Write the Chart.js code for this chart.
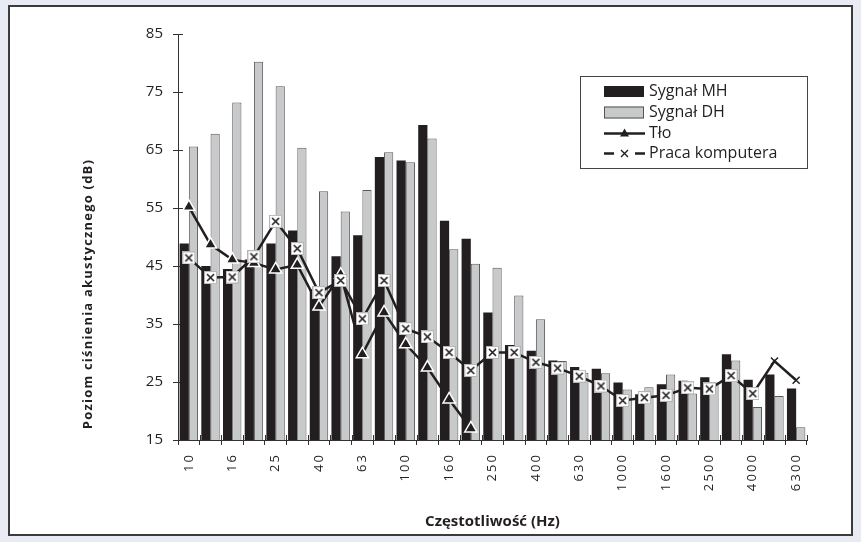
<!DOCTYPE html>
<html lang="pl">
<head>
<meta charset="utf-8">
<title>Poziom ciśnienia akustycznego</title>
<script src="https://cdn.jsdelivr.net/npm/chart.js@4.4.1/dist/chart.umd.min.js"></script>
<style>
  html, body { margin: 0; padding: 0; background: #e8eaf4; }
  #panel {
    position: absolute; left: 8px; top: 5px; width: 845px; height: 531px;
    box-sizing: border-box; background: #fff; border: 2px solid #3b3b3b;
  }
  #wykres { position: absolute; left: 0; top: 0; }
</style>
</head>
<body>
<div id="panel"></div>
<canvas id="wykres" width="861" height="542"></canvas>
<script>
// pasma tercjowe (Hz)
const czestotliwosci = ['10', '12.5', '16', '20', '25', '31.5', '40', '50', '63', '80', '100', '125', '160', '200',
    '250', '315', '400', '500', '630', '800', '1000', '1250', '1600', '2000', '2500', '3150', '4000', '5000', '6300'];

// poziomy w dB
const sygnalMH = [48.9, 45.0, 44.5, 46.1, 48.9, 51.1, 41.0, 46.7, 50.3, 63.8, 63.2, 69.3, 52.8, 49.7,
    37.0, 31.4, 30.4, 28.7, 27.6, 27.3, 24.9, 22.9, 24.6, 25.2, 25.8, 29.8, 25.4, 26.3, 23.9];
const sygnalDH = [65.6, 67.8, 73.2, 80.2, 76.0, 65.4, 57.9, 54.4, 58.1, 64.6, 62.9, 67.0, 47.9, 45.4,
    44.7, 39.9, 35.8, 28.6, 26.6, 26.5, 23.7, 24.1, 26.3, 23.0, 24.9, 28.7, 20.7, 22.6, 17.2];
const tlo = [55.2, 48.7, 46.1, 45.5, 44.4, 45.2, 38.0, 43.5, 29.8, 37.0, 31.5, 27.5, 22.0, 17.0,
    null, null, null, null, null, null, null, null, null, null, null, null, null, null, null];
const pracaKomputera = [46.4, 43.0, 43.1, 46.6, 52.7, 48.0, 40.4, 42.5, 35.9, 42.5, 34.2, 32.8, 30.1, 27.0,
    30.1, 30.1, 28.4, 27.4, 26.0, 24.3, 21.8, 22.3, 22.7, 24.0, 23.8, 26.1, 23.0, 28.6, 25.3];

const osY = { min: 15, max: 85, krok: 10 };

const CZARNY = '#231f20';
const SZARY = '#c8c9cb';
const FONT = "'Open Sans', sans-serif";

// znacznik "x" na białym kwadracie
function znacznikX() {
    const c = document.createElement('canvas');
    c.width = 13; c.height = 13;
    const g = c.getContext('2d');
    g.fillStyle = '#fff';
    g.fillRect(0, 0, 13, 13);
    g.strokeStyle = '#b5b5b5';
    g.lineWidth = 1;
    g.strokeRect(0.5, 0.5, 12, 12);
    g.strokeStyle = CZARNY;
    g.lineWidth = 1.6;
    g.beginPath();
    g.moveTo(3, 3); g.lineTo(10, 10);
    g.moveTo(10, 3); g.lineTo(3, 10);
    g.stroke();
    return c;
}
const xBox = znacznikX();

// kreski podziałki przecinające osie + tytuł osi Y
const osiePlugin = {
    id: 'osie',
    beforeDatasetsDraw(chart) {
        const { ctx, scales: { x, y } } = chart;
        ctx.save();
        ctx.strokeStyle = '#333';
        ctx.lineWidth = 1;
        ctx.beginPath();
        const n = czestotliwosci.length;
        for (let i = 0; i <= n; i++) {
            const px = Math.round(x.left + (x.right - x.left) * i / n) + 0.5;
            ctx.moveTo(px, y.bottom);
            ctx.lineTo(px, y.bottom - 5);
        }
        for (let v = osY.min; v <= osY.max; v += osY.krok) {
            const py = Math.round(y.getPixelForValue(v)) + 0.5;
            ctx.moveTo(x.left, py);
            ctx.lineTo(x.left + 5, py);
        }
        ctx.stroke();
        ctx.restore();
    },
    afterDraw(chart) {
        const ctx = chart.ctx;
        ctx.save();
        ctx.translate(88, 294);
        ctx.rotate(-Math.PI / 2);
        ctx.fillStyle = CZARNY;
        ctx.font = 'bold 13px ' + FONT;
        ctx.letterSpacing = '1.2px';
        ctx.textAlign = 'center';
        ctx.textBaseline = 'middle';
        ctx.fillText('Poziom ciśnienia akustycznego (dB)', 0, 0);
        ctx.restore();
    }
};

// legenda w ramce
const legendaPlugin = {
    id: 'legenda',
    afterDraw(chart) {
        const ctx = chart.ctx;
        const ds = chart.data.datasets;
        const rows = [91.5, 112.5, 133.5, 153.5];
        ctx.save();
        ctx.fillStyle = '#fff';
        ctx.fillRect(580, 76, 227, 92);
        ctx.strokeStyle = '#444';
        ctx.lineWidth = 1;
        ctx.strokeRect(580.5, 76.5, 227, 92);

        // Sygnał MH
        ctx.fillStyle = CZARNY;
        ctx.fillRect(604, rows[0] - 5.5, 40, 11);
        // Sygnał DH
        ctx.fillStyle = SZARY;
        ctx.fillRect(604, rows[1] - 6, 40, 12);
        ctx.strokeStyle = '#555';
        ctx.strokeRect(604.5, rows[1] - 5.5, 39, 11);
        // Tło
        ctx.strokeStyle = CZARNY;
        ctx.lineWidth = 2.5;
        ctx.beginPath();
        ctx.moveTo(604, rows[2]); ctx.lineTo(645, rows[2]);
        ctx.stroke();
        ctx.fillStyle = CZARNY;
        ctx.beginPath();
        ctx.moveTo(624.5, rows[2] - 5);
        ctx.lineTo(629, rows[2] + 3);
        ctx.lineTo(620, rows[2] + 3);
        ctx.closePath();
        ctx.fill();
        // Praca komputera
        ctx.beginPath();
        ctx.moveTo(604, rows[3]); ctx.lineTo(614, rows[3]);
        ctx.moveTo(635, rows[3]); ctx.lineTo(645, rows[3]);
        ctx.stroke();
        ctx.lineWidth = 1.4;
        ctx.beginPath();
        ctx.moveTo(621, rows[3] - 3.5); ctx.lineTo(628, rows[3] + 3.5);
        ctx.moveTo(628, rows[3] - 3.5); ctx.lineTo(621, rows[3] + 3.5);
        ctx.stroke();

        ctx.fillStyle = CZARNY;
        ctx.font = '16px ' + FONT;
        ctx.textAlign = 'left';
        ctx.textBaseline = 'middle';
        ds.forEach((d, i) => ctx.fillText(d.label, 649, rows[i]));
        ctx.restore();
    }
};

new Chart(document.getElementById('wykres'), {
    type: 'bar',
    data: {
        labels: czestotliwosci,
        datasets: [
            {
                label: 'Sygnał MH',
                data: sygnalMH,
                backgroundColor: CZARNY,
                borderWidth: 0,
                order: 2
            },
            {
                label: 'Sygnał DH',
                data: sygnalDH,
                backgroundColor: SZARY,
                borderColor: '#58595b',
                borderWidth: 1,
                order: 3
            },
            {
                type: 'line',
                label: 'Tło',
                data: tlo,
                borderColor: CZARNY,
                borderWidth: 2.5,
                pointStyle: 'triangle',
                pointRadius: 7,
                pointBackgroundColor: CZARNY,
                pointBorderColor: '#fff',
                pointBorderWidth: 1.5,
                order: 1
            },
            {
                type: 'line',
                label: 'Praca komputera',
                data: pracaKomputera,
                borderColor: CZARNY,
                borderWidth: 2.5,
                // ostatnie dwa punkty bez białego tła
                pointStyle: ctx => ctx.dataIndex >= 27 ? 'crossRot' : xBox,
                pointRadius: 5,
                pointBorderColor: CZARNY,
                pointBorderWidth: 1.5,
                order: 0
            }
        ]
    },
    options: {
        responsive: false,
        animation: false,
        devicePixelRatio: 1,
        layout: { padding: { left: 0, right: 54, top: 34, bottom: 10 } },
        datasets: {
            bar: { barPercentage: 1.0, categoryPercentage: 0.85 }
        },
        plugins: {
            legend: { display: false },
            tooltip: { enabled: false }
        },
        scales: {
            x: {
                afterFit: s => { s.height = 92; },
                border: { color: '#333', width: 1 },
                grid: { offset: true, drawOnChartArea: false, tickLength: 5, color: '#333' },
                ticks: {
                    autoSkip: false,
                    minRotation: 90,
                    maxRotation: 90,
                    padding: 10,
                    color: CZARNY,
                    font: { family: FONT, size: 13 },
                    callback: function (value, index) {
                        if (index % 2) return '';
                        return this.getLabelForValue(value).split('').join('\u2009');
                    }
                },
                title: {
                    display: true,
                    text: 'Częstotliwość (Hz)',
                    color: CZARNY,
                    font: { family: FONT, size: 15, weight: 'bold' },
                    padding: { top: 0, bottom: 1 }
                }
            },
            y: {
                min: osY.min,
                max: osY.max,
                afterFit: s => { s.width = 178; },
                border: { color: '#333', width: 1 },
                grid: { drawOnChartArea: false, tickLength: 5, color: '#333' },
                ticks: {
                    stepSize: osY.krok,
                    padding: 10,
                    color: CZARNY,
                    font: { family: FONT, size: 15 }
                }
            }
        }
    },
    plugins: [osiePlugin, legendaPlugin]
});
</script>
</body>
</html>
